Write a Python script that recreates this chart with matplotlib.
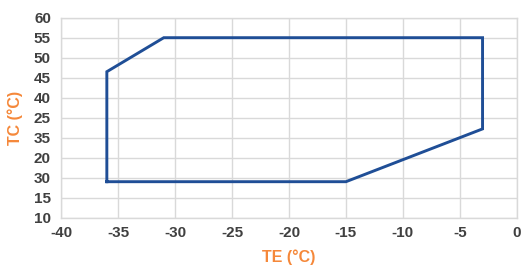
import matplotlib
matplotlib.use("Agg")
import matplotlib.pyplot as plt

# Envelope polygon (TE, TC) in axis position units
te = [-36, -36, -31, -3, -3, -15, -36]
tc = [19, 46.5, 55, 55, 32.2, 19, 19]

x_ticks = [-40, -35, -30, -25, -20, -15, -10, -5, 0]
x_labels = ["-40", "-35", "-30", "-25", "-20", "-15", "-10", "-5", "0"]
y_ticks = [60, 55, 50, 45, 40, 35, 30, 25, 20, 15, 10]
y_labels = ["60", "55", "50", "45", "40", "25", "35", "20", "30", "15", "10"]

plt.rcParams['font.family'] = ['Liberation Sans', 'DejaVu Sans']

fig = plt.figure(figsize=(5.23, 2.66), dpi=100)
ax = fig.add_axes([61.3/523, 1 - 217.7/266, (516.7-61.3)/523, (217.7-17.7)/266])

ax.plot(te, tc, color='#1f4e96', linewidth=2.1, solid_joinstyle='miter', zorder=3)

ax.set_xlim(-40, 0)
ax.set_ylim(10, 60)
ax.set_xticks(x_ticks)
ax.set_xticklabels(x_labels)
ax.set_yticks(y_ticks)
ax.set_yticklabels(y_labels)
ax.grid(True, color='#d9d9d9', linewidth=1)
for s in ax.spines.values():
    s.set_color('#d9d9d9')
    s.set_linewidth(1)
ax.tick_params(length=0, labelsize=11, labelcolor='#404040')
ax.tick_params(axis='x', pad=6)
ax.tick_params(axis='y', pad=7.5)
for lab in ax.get_xticklabels() + ax.get_yticklabels():
    lab.set_fontweight('bold')

ax.set_xlabel('TE (°C)', color='#f5883a', fontsize=11.5, fontweight='bold', labelpad=7)
ax.set_ylabel('TC (°C)', color='#f5883a', fontsize=11.5, fontweight='bold', labelpad=8)

fig.savefig('out.png', dpi=100)
